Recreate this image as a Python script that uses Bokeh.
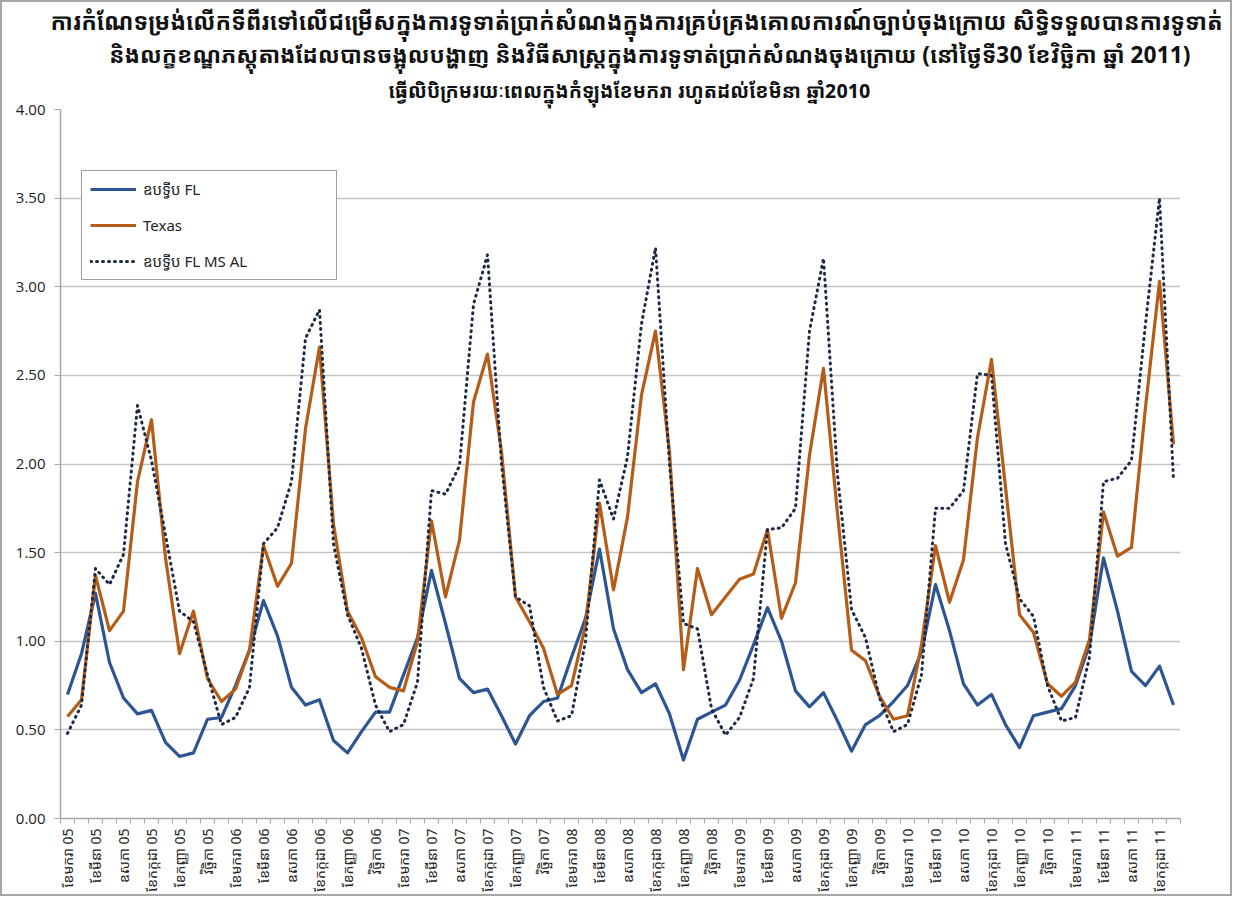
from bokeh.plotting import figure
from bokeh.models import (Range1d, FixedTicker, NumeralTickFormatter, Legend, LegendItem, Title)
from bokeh.embed import file_html
from bokeh.resources import INLINE

KH = "'Noto Sans Khmer', 'Khmer OS', 'Noto Sans', sans-serif"

title_lines = [
    "ការកំណែទម្រង់លើកទីពីរទៅលើជម្រើសក្នុងការទូទាត់ប្រាក់សំណងក្នុងការគ្រប់គ្រងគោលការណ៍ច្បាប់ចុងក្រោយ សិទ្ធិទទួលបានការទូទាត់",
    "និងលក្ខខណ្ឌភស្តុតាងដែលបានចង្អុលបង្ហាញ និងវិធីសាស្រ្តក្នុងការទូទាត់ប្រាក់សំណងចុងក្រោយ (នៅថ្ងៃទី30 ខែវិច្ឆិកា ឆ្នាំ 2011)",
    "ធ្វើលិបិក្រមរយៈពេលក្នុងកំឡុងខែមករា រហូតដល់ខែមិនា ឆ្នាំ2010",
]

series_names = ["ឧបទ្វីប FL", "Texas", "ឧបទ្វីប FL MS AL"]

month_labels = ["ខែមករា", "ខែកុម្ភៈ", "ខែមីនា", "ខែមេសា", "ឧសភា", "ខែមិថុនា",
                "ខែកក្កដា", "ខែសីហា", "ខែកញ្ញា", "ខែតុលា", "វិច្ឆិកា", "ខែធ្នូ"]
years = ["05", "06", "07", "08", "09", "10", "11"]

fl = [0.70, 0.93, 1.27, 0.88, 0.68, 0.59, 0.61, 0.43, 0.35, 0.37, 0.56, 0.57,
      0.75, 0.95, 1.23, 1.03, 0.74, 0.64, 0.67, 0.44, 0.37, 0.49, 0.60, 0.60,
      0.81, 1.02, 1.40, 1.10, 0.79, 0.71, 0.73, 0.58, 0.42, 0.58, 0.66, 0.68,
      0.91, 1.13, 1.52, 1.07, 0.84, 0.71, 0.76, 0.59, 0.33, 0.56, 0.60, 0.64,
      0.78, 0.98, 1.19, 1.00, 0.72, 0.63, 0.71, 0.55, 0.38, 0.53, 0.58, 0.66,
      0.75, 0.94, 1.32, 1.06, 0.76, 0.64, 0.70, 0.53, 0.40, 0.58, 0.60, 0.62,
      0.75, 0.98, 1.47, 1.17, 0.83, 0.75, 0.86, 0.64]

texas = [0.575, 0.67, 1.37, 1.06, 1.17, 1.90, 2.25, 1.47, 0.93, 1.17, 0.79, 0.66,
         0.73, 0.95, 1.54, 1.31, 1.44, 2.20, 2.66, 1.66, 1.17, 1.02, 0.80, 0.74,
         0.72, 1.00, 1.68, 1.25, 1.57, 2.35, 2.62, 2.07, 1.25, 1.11, 0.96, 0.70,
         0.75, 1.09, 1.78, 1.29, 1.70, 2.39, 2.75, 2.07, 0.84, 1.41, 1.15, 1.25,
         1.35, 1.38, 1.63, 1.13, 1.33, 2.05, 2.54, 1.72, 0.95, 0.89, 0.69, 0.56,
         0.58, 0.98, 1.54, 1.22, 1.46, 2.15, 2.59, 1.87, 1.15, 1.05, 0.76, 0.69,
         0.77, 1.01, 1.73, 1.48, 1.53, 2.32, 3.03, 2.11]

fl_ms_al = [0.48, 0.64, 1.41, 1.32, 1.49, 2.33, 2.02, 1.60, 1.17, 1.11, 0.81, 0.53,
            0.57, 0.74, 1.55, 1.64, 1.90, 2.71, 2.87, 1.55, 1.15, 0.96, 0.64, 0.49,
            0.53, 0.77, 1.85, 1.83, 1.99, 2.90, 3.18, 2.00, 1.25, 1.20, 0.74, 0.55,
            0.58, 1.00, 1.91, 1.69, 2.04, 2.79, 3.22, 2.00, 1.10, 1.07, 0.62, 0.47,
            0.57, 0.79, 1.63, 1.64, 1.75, 2.75, 3.16, 1.94, 1.18, 1.02, 0.68, 0.49,
            0.53, 0.81, 1.75, 1.75, 1.85, 2.51, 2.50, 1.55, 1.24, 1.14, 0.75, 0.55,
            0.57, 0.91, 1.90, 1.92, 2.02, 2.79, 3.50, 1.91]

y_ticks = [0, 0.5, 1.0, 1.5, 2.0, 2.5, 3.0, 3.5, 4.0]

n = len(fl)
x = list(range(n))
category_labels = [f"{month_labels[i % 12]} {years[i // 12]}" for i in range(n)]

p = figure(frame_width=1120, frame_height=709,
           x_range=Range1d(-0.5, n - 0.5), y_range=Range1d(0, 4),
           output_backend="svg", toolbar_location=None, title=None,
           min_border_left=58, min_border_right=50, min_border_bottom=70, min_border_top=106)
p.outline_line_color = None
p.background_fill_color = "white"
p.border_fill_color = "white"
p.styles = {"border": "2px solid #a6a6a6"}

# (line index, font size, alignment, offset, standoff) — nearest the plot first
title_style = [(2, "19.5px", "left", 328, 11), (1, "22.5px", "right", -10, 0),
               (0, "23px", "left", -10, 0)]
for idx, size, al, off, so in title_style:
    p.add_layout(Title(text=title_lines[idx], align=al, text_font=KH, text_font_size=size,
                       text_font_style="bold", text_color="#111111", offset=off, standoff=so), "above")

# axes
xa = p.xaxis[0]
xa.ticker = FixedTicker(ticks=list(range(0, n, 2)),
                        minor_ticks=[i - 0.5 for i in range(n + 1)])
xa.major_label_overrides = {i: category_labels[i] for i in range(0, n, 2)}
xa.major_label_orientation = 3.14159265 / 2
xa.major_tick_line_color = None
xa.major_tick_out = 0
xa.major_tick_in = 0
xa.minor_tick_out = 5
xa.minor_tick_in = 0
xa.minor_tick_line_color = "#a6a6a6"
xa.axis_line_color = "#a6a6a6"
xa.axis_line_width = 1.5
xa.major_label_text_font = KH
xa.major_label_text_font_size = "14px"
xa.major_label_text_color = "#222222"
xa.major_label_standoff = 5

ya = p.yaxis[0]
ya.ticker = FixedTicker(ticks=y_ticks, minor_ticks=[])
ya.formatter = NumeralTickFormatter(format="0.00")
ya.major_tick_out = 6
ya.major_tick_in = 0
ya.major_tick_line_color = "#a6a6a6"
ya.axis_line_color = "#a6a6a6"
ya.axis_line_width = 1.5
ya.major_label_text_font = "Open Sans"
ya.major_label_text_font_size = "15px"
ya.major_label_text_color = "#222222"
ya.major_label_standoff = 9

p.xgrid.grid_line_color = None
p.ygrid.grid_line_color = "#c4c4c4"
p.ygrid.grid_line_width = 1.5
p.ygrid.ticker = FixedTicker(ticks=y_ticks)

r_fl = p.line(x, fl, line_color="#2c5592", line_width=3.2, line_join="round")
r_tx = p.line(x, texas, line_color="#b55d18", line_width=3.2, line_join="round")
r_ms = p.line(x, fl_ms_al, line_color="#1c2a45", line_width=3, line_dash="1 5",
              line_cap="round", line_join="round")

legend = Legend(items=[LegendItem(label=series_names[0], renderers=[r_fl]),
                       LegendItem(label=series_names[1], renderers=[r_tx]),
                       LegendItem(label=series_names[2], renderers=[r_ms])],
                location=(21, 538), orientation="vertical")
legend.border_line_color = "#404040"
legend.border_line_width = 1
legend.background_fill_color = "white"
legend.background_fill_alpha = 1
legend.label_text_font = KH
legend.label_text_font_size = "15px"
legend.label_text_color = "#222222"
legend.glyph_width = 46
legend.glyph_height = 16
legend.label_height = 16
legend.label_width = 185
legend.spacing = 16
legend.padding = 8
legend.margin = 0
legend.label_standoff = 7
p.add_layout(legend, "center")

open("out.html", "w").write(file_html(p, INLINE))
